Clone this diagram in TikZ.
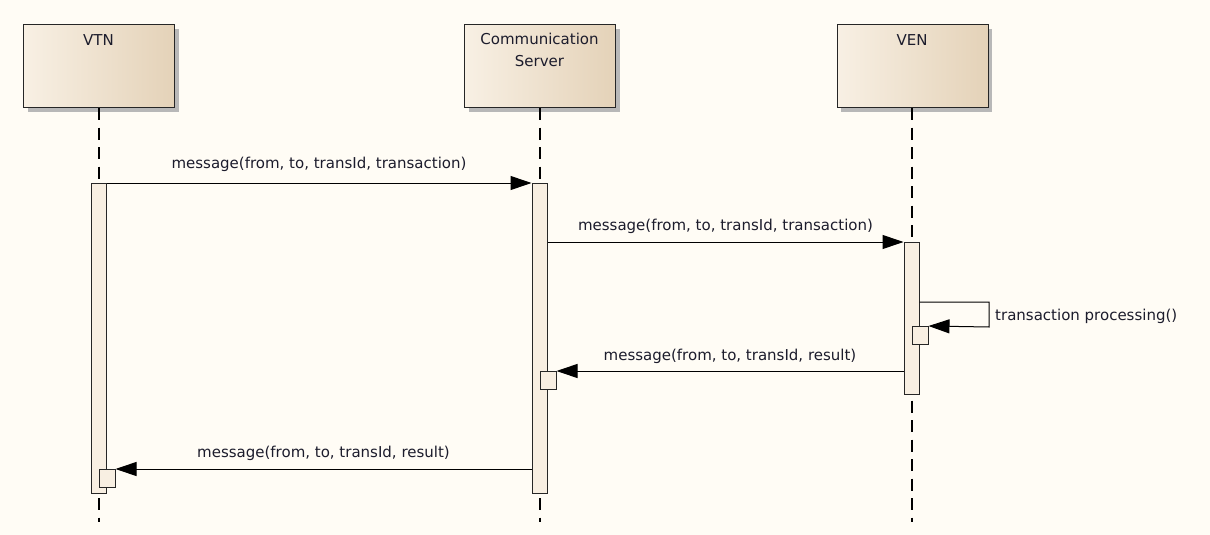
\documentclass[tikz,border=0pt]{standalone}
\usepackage{fontspec}
\setmainfont{DejaVu Sans}
\usetikzlibrary{arrows.meta,shadows}
\definecolor{bg}{HTML}{FFFCF5}
\definecolor{boxL}{HTML}{F8F0E4}
\definecolor{boxR}{HTML}{E4D2B8}
\definecolor{barfill}{HTML}{F8EFE2}
\definecolor{txt}{HTML}{1C1C2C}
\begin{document}
\begin{tikzpicture}[x=1pt,y=-1pt,
  actor/.style={draw=black!85, line width=1.2pt, left color=boxL, middle color=boxL, right color=boxR,
    minimum width=151pt, minimum height=83pt, anchor=north west, inner sep=0pt,
    drop shadow={shadow xshift=4pt, shadow yshift=-4pt, fill=black!28, opacity=1}},
  actortext/.style={text=txt, font=\fontsize{15}{22}\selectfont, align=center, anchor=north},
  lifeline/.style={draw=black, line width=1.2pt, dash pattern=on 12pt off 7.5pt},
  actbar/.style={draw=black!85, line width=1pt, fill=barfill, minimum width=15pt, anchor=north, inner sep=0pt},
  actbox/.style={draw=black!85, line width=1pt, fill=barfill, minimum width=16pt, minimum height=18pt, inner sep=0pt},
  msg/.style={draw=black, line width=1pt, -{Triangle[length=21pt,width=14pt]}},
  msgtext/.style={text=txt, font=\fontsize{15}{17}\selectfont, inner sep=0pt}]
\useasboundingbox (0,0) rectangle (1210,535);
\fill[bg] (0,0) rectangle (1210,535);

% actors
\node[actor] (vtn) at (23,24) {};
\node[actor] (cs) at (464,24) {};
\node[actor] (ven) at (836.5,24) {};
\node[actortext] (vtnl) at (98.5,31) {VTN};
\node[actortext] (csl) at (539.5,30) {Communication\\Server};
\node[actortext] (venl) at (912,31) {VEN};

% lifeline ends
\coordinate (vtnend) at (99,522);
\coordinate (csend) at (540,522);
\coordinate (venend) at (912,522);
\draw[lifeline] (vtn.south -| vtnend) -- (vtnend);
\draw[lifeline] (cs.south -| csend) -- (csend);
\draw[lifeline] (ven.south -| venend) -- (venend);

% activation bars
\node[actbar, minimum height=310pt] (vtnbar) at (98.5,183) {};
\node[actbar, minimum height=310pt] (csbar) at (539.5,183) {};
\node[actbar, minimum height=152pt] (venbar) at (911.5,242) {};

% nested activations
\node[actbox] (venact) at (920,335.5) {};
\node[actbox] (csact) at (548,380.5) {};
\node[actbox] (vtnact) at (107,478.5) {};

% messages
\draw[msg] (vtnbar.north east) -- (csbar.north west)
  node[msgtext, midway, yshift=19pt] (m1) {message(from, to, transId, transaction)};
\draw[msg] (csbar.east |- venbar.north) -- (venbar.north west)
  node[msgtext, midway, yshift=16pt] (m2) {message(from, to, transId, transaction)};
\coordinate (selfA) at (989,302);
\coordinate (selfB) at (989,327);
\draw[msg] (venbar.east |- selfA) -- (selfA) -- (selfB) -- (venact.north east);
\node[msgtext, anchor=west] (m3) at (995,316) {transaction processing()};
\draw[msg] (venbar.west |- csact.north) -- (csact.north east)
  node[msgtext, midway, yshift=15pt] (m4) {message(from, to, transId, result)};
\draw[msg] (csbar.west |- vtnact.north) -- (vtnact.north east)
  node[msgtext, midway, yshift=16pt] (m5) {message(from, to, transId, result)};
\end{tikzpicture}
\end{document}
